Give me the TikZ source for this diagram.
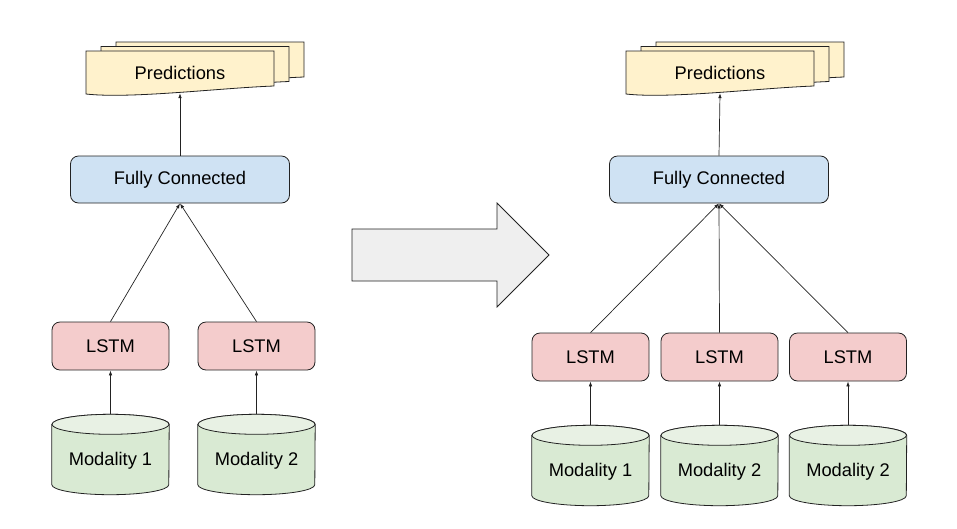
\documentclass[tikz,border=0pt]{standalone}
\usepackage{fontspec}
\setmainfont{Liberation Sans}
\usetikzlibrary{arrows.meta}
\definecolor{predfill}{HTML}{FFF2CC}
\definecolor{fcfill}{HTML}{CFE2F3}
\definecolor{lstmfill}{HTML}{F4CCCC}
\definecolor{cylbody}{HTML}{D9EAD3}
\definecolor{cyltop}{HTML}{E8F1E4}
\definecolor{bigarrow}{HTML}{EFEFEF}
\definecolor{edge}{HTML}{222222}
\tikzset{
  every node/.style={font=\fontsize{18.3}{22}\selectfont, text=black},
  fcbox/.style={draw=edge, line width=0.8pt, fill=fcfill, rounded corners=8pt, minimum width=219pt, minimum height=47pt},
  lstmbox/.style={draw=edge, line width=0.8pt, fill=lstmfill, rounded corners=8pt, minimum width=117pt, minimum height=48pt},
  cylbox/.style={minimum width=117pt, minimum height=80pt, inner sep=0pt},
  predbox/.style={minimum width=188pt, minimum height=41pt, inner sep=0pt},
  docline/.style={draw=edge, line width=0.8pt, fill=predfill},
  cylline/.style={draw=edge, line width=0.8pt},
  conn/.style={draw=edge, line width=0.7pt, -{Latex[length=5pt,width=3.6pt]}},
}
% document shape: top-left (#1,#2), width 188
\newcommand{\pdocshape}[2]{%
  \path[docline] (#1,#2) -- (#1+188,#2) -- (#1+188,#2+35)
    .. controls (#1+134,#2+37) and (#1+44,#2+48) .. (#1,#2+43) -- cycle;
}
% cylinder around a named node
\newcommand{\cylshape}[1]{%
  \path[cylline, fill=cylbody] ([yshift=-10pt]#1.north west) -- ([yshift=10pt]#1.south west)
    arc[start angle=180, end angle=360, x radius=58.5pt, y radius=10pt]
    -- ([yshift=-10pt]#1.north east)
    arc[start angle=0, end angle=180, x radius=58.5pt, y radius=10pt] -- cycle;
  \path[cylline, fill=cyltop] ([yshift=-10pt]#1.north) ellipse[x radius=58.5pt, y radius=10pt];
}
\begin{document}
\begin{tikzpicture}[x=1pt,y=-1pt]
\useasboundingbox (0,0) rectangle (957,528);

% ---------- left diagram ----------
\pdocshape{116}{42}
\pdocshape{101}{46.5}
\pdocshape{86}{51}
\node[predbox] (predL) at (180,72.5) {Predictions};

\node[fcbox] (fcL) at (180,179.5) {Fully Connected};

\node[lstmbox] (lL1) at (110.5,346) {LSTM};
\node[lstmbox] (lL2) at (256.5,346) {LSTM};

\node[cylbox] (mL1) at (110.5,454.5) {};
\node[cylbox] (mL2) at (256.5,454.5) {};
\cylshape{mL1}
\cylshape{mL2}
\node (mL1t) at ([yshift=-6pt]mL1.center) {Modality 1};
\node (mL2t) at ([yshift=-6pt]mL2.center) {Modality 2};

\draw[conn] (fcL.north) -- (predL.south);
\draw[conn] (lL1.north) -- (fcL.south);
\draw[conn] (lL2.north) -- (fcL.south);
\draw[conn] (mL1.north) -- (lL1.south);
\draw[conn] (mL2.north) -- (lL2.south);

% ---------- big arrow ----------
\path[draw=edge, line width=0.8pt, fill=bigarrow]
  (352,229) -- (497,229) -- (497,203) -- (549,255) -- (497,307) -- (497,281) -- (352,281) -- cycle;

% ---------- right diagram ----------
\pdocshape{656}{42}
\pdocshape{641}{46.5}
\pdocshape{626}{51}
\node[predbox] (predR) at (720,72.5) {Predictions};

\node[fcbox] (fcR) at (719,179.5) {Fully Connected};

\node[lstmbox] (lR1) at (590.5,357) {LSTM};
\node[lstmbox] (lR2) at (719.5,357) {LSTM};
\node[lstmbox] (lR3) at (848,357) {LSTM};

\node[cylbox] (mR1) at (590.5,465.5) {};
\node[cylbox] (mR2) at (719.5,465.5) {};
\node[cylbox] (mR3) at (848,465.5) {};
\cylshape{mR1}
\cylshape{mR2}
\cylshape{mR3}
\node (mR1t) at ([yshift=-6pt]mR1.center) {Modality 1};
\node (mR2t) at ([yshift=-6pt]mR2.center) {Modality 2};
\node (mR3t) at ([yshift=-6pt]mR3.center) {Modality 2};

\draw[conn] (fcR.north) -- (predR.south);
\draw[conn] (lR1.north) -- (fcR.south);
\draw[conn] (lR2.north) -- (fcR.south);
\draw[conn] (lR3.north) -- (fcR.south);
\draw[conn] (mR1.north) -- (lR1.south);
\draw[conn] (mR2.north) -- (lR2.south);
\draw[conn] (mR3.north) -- (lR3.south);
\end{tikzpicture}
\end{document}
